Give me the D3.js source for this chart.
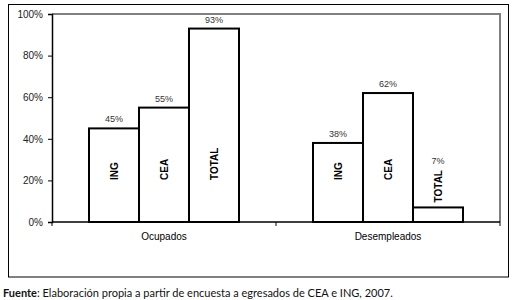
<!DOCTYPE html>
<html>
<head>
<meta charset="utf-8">
<script src="https://cdn.jsdelivr.net/npm/d3@7"></script>
<style>
  body { margin: 0; background: #fff; }
  svg { display: block; }
</style>
</head>
<body>
<div id="chart"></div>
<script>
// data
var groups = ["Ocupados", "Desempleados"];
var series = ["ING", "CEA", "TOTAL"];
var ocupados = [0.45, 0.55, 0.93];
var desempleados = [0.38, 0.62, 0.07];
var yTicks = [0, 0.2, 0.4, 0.6, 0.8, 1];
var footNote = "Elaboración propia a partir de encuesta a egresados de CEA e ING, 2007.";

var values = { "Ocupados": ocupados, "Desempleados": desempleados };

var W = 514, H = 300;
var plot = { left: 52, right: 500, top: 14, bottom: 222 };

var svg = d3.select("#chart").append("svg")
    .attr("width", W)
    .attr("height", H);

// outer frame
svg.append("rect")
    .attr("x", 8.5).attr("y", 4.5)
    .attr("width", 500).attr("height", 272.5)
    .attr("fill", "none")
    .attr("stroke", "#000")
    .attr("stroke-width", 1);

var x = d3.scaleBand()
    .domain(groups)
    .range([plot.left, plot.right]);

var xInner = d3.scaleBand()
    .domain(series)
    .range([0, x.bandwidth()])
    .paddingInner(0)
    .paddingOuter(0.74);

var y = d3.scaleLinear()
    .domain([0, 1])
    .range([plot.bottom, plot.top]);

// gray top and right frame of the plot
svg.append("path")
    .attr("d", "M" + plot.left + "," + plot.top + "H" + plot.right + "V" + plot.bottom)
    .attr("fill", "none")
    .attr("stroke", "#808080")
    .attr("stroke-width", 2);

// y axis
var yAxis = svg.append("g")
    .attr("transform", "translate(" + plot.left + ",0)")
    .call(d3.axisLeft(y).tickValues(yTicks).tickFormat(d3.format(".0%")).tickSize(4).tickPadding(5));
yAxis.select(".domain").attr("stroke", "#000").attr("stroke-width", 1.5);
yAxis.selectAll("text")
    .style("font-family", "Liberation Sans, Arial, sans-serif")
    .style("font-size", "10px")
    .attr("fill", "#222");

// x axis, ticks at the group boundaries
var xAxis = svg.append("g")
    .attr("transform", "translate(0," + plot.bottom + ")");
xAxis.append("line")
    .attr("x1", plot.left).attr("x2", plot.right)
    .attr("stroke", "#000").attr("stroke-width", 1.5);
var bounds = groups.map(function(g) { return x(g); }).concat([plot.right]);
xAxis.selectAll(".tk")
    .data(bounds)
    .enter().append("line")
    .attr("class", "tk")
    .attr("x1", function(d) { return d; })
    .attr("x2", function(d) { return d; })
    .attr("y1", 0).attr("y2", 4)
    .attr("stroke", "#000");
xAxis.selectAll(".cat")
    .data(groups)
    .enter().append("text")
    .attr("class", "cat")
    .attr("x", function(d) { return x(d) + x.bandwidth() / 2; })
    .attr("y", 18)
    .attr("text-anchor", "middle")
    .style("font-family", "Liberation Sans, Arial, sans-serif")
    .style("font-size", "10px")
    .text(function(d) { return d; });

// bars
var rows = [];
groups.forEach(function(g) {
    series.forEach(function(s, i) {
        rows.push({ group: g, name: s, value: values[g][i] });
    });
});

var bar = svg.selectAll(".bar")
    .data(rows)
    .enter().append("g")
    .attr("class", "bar")
    .attr("transform", function(d) { return "translate(" + (x(d.group) + xInner(d.name)) + ",0)"; });

bar.append("rect")
    .attr("x", 0)
    .attr("y", function(d) { return y(d.value); })
    .attr("width", xInner.bandwidth())
    .attr("height", function(d) { return plot.bottom - y(d.value); })
    .attr("fill", "#fff")
    .attr("stroke", "#000")
    .attr("stroke-width", 2);

// rotated series names inside the bars (above the bar if it is too short)
var nameBase = function(d) { return Math.max(180, y(d.value) - 5); };
var names = bar.append("text")
    .attr("transform", function(d) {
        return "translate(" + (xInner.bandwidth() / 2 + 3.5) + "," + nameBase(d) + ") rotate(-90)";
    })
    .attr("text-anchor", "start")
    .style("font-family", "Liberation Sans, Arial, sans-serif")
    .style("font-size", "10px")
    .style("font-weight", "bold")
    .text(function(d) { return d.name; });

// value labels above the bar (or above the name if it sticks out)
bar.append("text")
    .attr("x", xInner.bandwidth() / 2)
    .attr("y", function(d, i) {
        var len = names.nodes()[i].getComputedTextLength();
        return Math.min(y(d.value), nameBase(d) - len) - 6;
    })
    .attr("text-anchor", "middle")
    .style("font-family", "Liberation Sans, Arial, sans-serif")
    .style("font-size", "9px")
    .attr("fill", "#333")
    .text(function(d) { return d3.format(".0%")(d.value); });

// source note
var foot = svg.append("text")
    .attr("x", 3)
    .attr("y", 297)
    .style("font-family", "Lato, sans-serif")
    .style("font-size", "11px")
    .attr("fill", "#111");
foot.append("tspan").style("font-weight", "bold").text("Fuente");
foot.append("tspan").text(": " + footNote);
</script>
</body>
</html>
